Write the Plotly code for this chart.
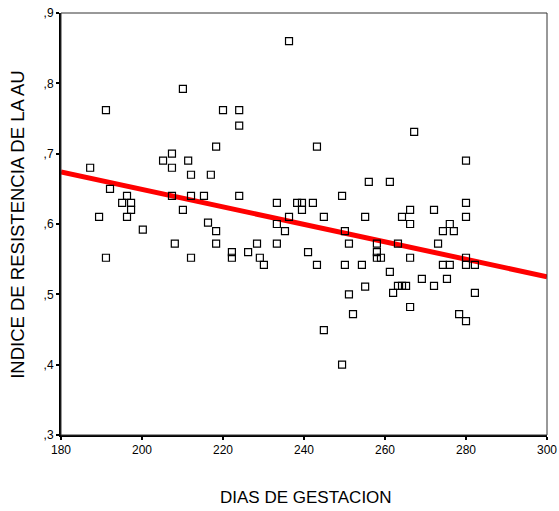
import plotly.graph_objects as go

dias = [187.2, 191.1, 189.4, 192.1, 191.1, 195.1, 196.3, 196.3, 197.3, 197.3,
        200.2, 205.2, 207.4, 207.4, 207.4, 208.1, 210.1, 210.1, 211.4, 212.1,
        212.1, 212.1, 215.3, 216.3, 217.0, 218.3, 218.3, 218.3, 220.0, 222.2,
        222.2, 224.0, 224.0, 224.0, 226.2, 228.4, 229.1, 230.1, 233.3, 233.3,
        233.3, 235.3, 236.3, 236.3, 238.3, 239.5, 239.5, 242.2, 241.0, 243.2,
        243.2, 244.9, 244.9, 249.4, 249.4, 250.1, 250.1, 251.1, 251.1, 252.1,
        254.3, 255.1, 255.1, 256.0, 258.0, 258.0, 258.0, 259.0, 261.2, 261.2,
        262.0, 263.2, 263.2, 264.2, 265.2, 264.2, 266.2, 266.2, 266.2, 266.2,
        267.2, 269.1, 272.1, 272.1, 273.1, 274.3, 274.3, 275.3, 276.0, 276.0,
        277.0, 278.3, 280.0, 280.0, 280.0, 280.0, 280.0, 280.0, 282.2, 282.2]
indice = [0.680, 0.762, 0.610, 0.650, 0.552, 0.630, 0.640, 0.610, 0.630, 0.620,
          0.592, 0.690, 0.700, 0.680, 0.640, 0.572, 0.792, 0.620, 0.690, 0.670,
          0.640, 0.552, 0.640, 0.602, 0.670, 0.710, 0.590, 0.572, 0.762, 0.560,
          0.552, 0.762, 0.740, 0.640, 0.560, 0.572, 0.552, 0.542, 0.630, 0.600,
          0.572, 0.590, 0.860, 0.610, 0.630, 0.630, 0.620, 0.630, 0.560, 0.710,
          0.542, 0.610, 0.449, 0.640, 0.400, 0.590, 0.542, 0.572, 0.500, 0.472,
          0.542, 0.610, 0.511, 0.660, 0.572, 0.560, 0.552, 0.552, 0.660, 0.532,
          0.502, 0.572, 0.512, 0.512, 0.512, 0.610, 0.620, 0.600, 0.552, 0.482,
          0.731, 0.522, 0.620, 0.512, 0.572, 0.590, 0.542, 0.522, 0.600, 0.542,
          0.590, 0.472, 0.690, 0.630, 0.610, 0.552, 0.542, 0.462, 0.542, 0.502]

fit_x = [180, 300]
fit_y = [0.674, 0.525]

x_ticks = [180, 200, 220, 240, 260, 280, 300]
y_ticks = [0.3, 0.4, 0.5, 0.6, 0.7, 0.8, 0.9]
y_tick_text = [",3", ",4", ",5", ",6", ",7", ",8", ",9"]

fig = go.Figure()
fig.add_trace(go.Scatter(x=fit_x, y=fit_y, mode="lines",
                         line=dict(color="#ff0000", width=5), showlegend=False,
                         hoverinfo="skip"))
fig.add_trace(go.Scatter(x=dias, y=indice, mode="markers",
                         marker=dict(symbol="square-open", size=7,
                                     color="black", line=dict(width=1.2, color="black")),
                         showlegend=False))

font = "Liberation Sans, Arial, sans-serif"
fig.update_layout(
    width=559, height=511,
    margin=dict(l=61, r=12, t=13, b=76, autoexpand=False),
    paper_bgcolor="white", plot_bgcolor="white",
    font=dict(family=font, size=12, color="black"),
    xaxis=dict(range=[180, 300], tickvals=x_ticks, ticks="outside", ticklen=3,
               tickwidth=2, tickcolor="black", showgrid=False, zeroline=False,
               showline=True, linecolor="black", linewidth=2, mirror=False,
               automargin=False, tickfont=dict(size=12, family=font)),
    yaxis=dict(range=[0.3, 0.9], tickvals=y_ticks, ticktext=y_tick_text,
               ticks="outside", ticklen=3, tickwidth=2, tickcolor="black",
               showgrid=False, zeroline=False, showline=True, linecolor="black",
               linewidth=2, automargin=False, tickfont=dict(size=12, family=font)),
    shapes=[dict(type="rect", xref="paper", yref="paper", x0=0, x1=1, y0=0, y1=1,
                 line=dict(color="#333333", width=1), layer="above")],
    annotations=[
        dict(text="DIAS DE GESTACION", xref="paper", yref="paper", x=0.504,
             y=-0.147, yanchor="middle", xanchor="center", showarrow=False,
             font=dict(size=17, family=font)),
        dict(text="INDICE DE RESISTENCIA DE LA AU", xref="paper", yref="paper",
             x=-0.0885, xanchor="center", y=0.498, yanchor="middle", textangle=-90,
             showarrow=False, font=dict(size=18.5, family=font)),
    ],
)
fig.write_html("out.html")
